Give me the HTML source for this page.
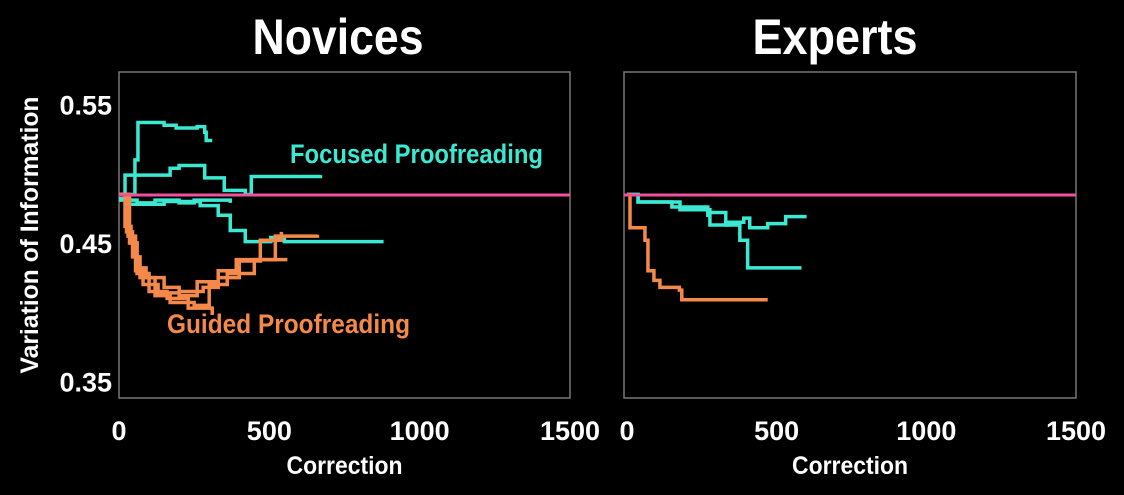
<!DOCTYPE html>
<html><head><meta charset="utf-8">
<style>
html,body{margin:0;padding:0;background:#000;}
svg{display:block;}
text{font-family:"Liberation Sans Narrow","Liberation Sans",sans-serif;font-weight:bold;fill:#fff;}
</style></head>
<body>
<svg id="chart" width="1124" height="495" viewBox="0 0 1124 495"></svg>
<script>
const xTicks=[0,500,1000,1500];
const xTickLabels=["0","500","1000","1500"];
const yTicks=[0.55,0.45,0.35];
const yTickLabels=["0.55","0.45","0.35"];
const baseline=0.4847;
// Novices focused (cyan)
const nf1x=[0,50,53,63,150,190,260,285,290,310];
const nf1y=[0.485,0.485,0.51,0.537,0.535,0.533,0.534,0.530,0.524,0.524];
const nf2x=[0,20,170,200,285,350,420,440,670];
const nf2y=[0.485,0.499,0.504,0.506,0.497,0.488,0.485,0.498,0.499];
const nf3x=[0,30,150,270,330,370,420,505,550,880];
const nf3y=[0.482,0.478,0.480,0.477,0.470,0.459,0.451,0.454,0.451,0.451];
const nf4x=[0,60,120,200,250,370];
const nf4y=[0.481,0.479,0.481,0.479,0.481,0.479];
// Novices guided (orange)
const ng1x=[0,20,40,60,90,150,200,280,330,400,470,540];
const ng1y=[0.485,0.462,0.450,0.432,0.425,0.418,0.415,0.418,0.425,0.437,0.452,0.458];
const ng2x=[0,25,45,70,120,170,250,300,360,450,520,660];
const ng2y=[0.485,0.458,0.440,0.425,0.412,0.407,0.405,0.420,0.428,0.438,0.455,0.456];
const ng3x=[0,30,55,80,130,200,260,330,390,560];
const ng3y=[0.485,0.455,0.430,0.420,0.414,0.412,0.422,0.430,0.438,0.438];
const ng4x=[0,35,60,100,160,230,290,310];
const ng4y=[0.485,0.450,0.428,0.415,0.410,0.403,0.403,0.398];
// Experts
const ef1x=[0,37,150,270,277,340,390,410,470,530,600];
const ef1y=[0.485,0.4796,0.476,0.470,0.463,0.465,0.468,0.461,0.464,0.469,0.469];
const ef2x=[0,37,177,277,330,377,403,583];
const ef2y=[0.485,0.4796,0.474,0.472,0.463,0.452,0.432,0.432];
const egx=[0,10,60,70,90,110,175,183,470];
const egy=[0.485,0.461,0.452,0.430,0.423,0.418,0.416,0.409,0.409];

const svg=document.getElementById('chart');
const NS='http://www.w3.org/2000/svg';
function mk(tag,attrs,parent){const e=document.createElementNS(NS,tag);for(const k in attrs)e.setAttribute(k,attrs[k]);(parent||svg).appendChild(e);return e;}
const panels=[
 {name:'novices',title:'Novices',tl:171,left:119,right:570,x0:119,x1:570,top:72,bottom:398,tx:338,
  series:[[nf1x,nf1y,'#3be8d2'],[nf2x,nf2y,'#3be8d2'],[nf3x,nf3y,'#3be8d2'],[nf4x,nf4y,'#3be8d2'],[ng1x,ng1y,'#f4894a'],[ng2x,ng2y,'#f4894a'],[ng3x,ng3y,'#f4894a'],[ng4x,ng4y,'#f4894a']]},
 {name:'experts',title:'Experts',tl:165,left:624,right:1076,x0:627,x1:1076,top:72,bottom:398,tx:835,
  series:[[ef1x,ef1y,'#3be8d2'],[ef2x,ef2y,'#3be8d2'],[egx,egy,'#f4894a']]}
];
function yS(v){return 243-(v-0.45)*1385;}
panels.forEach(p=>{
 const xS=v=>p.x0+(v/1500)*(p.x1-p.x0);
 const g=mk('g',{});
 
 
 const t=mk('text',{x:p.tx,y:54,'text-anchor':'middle','font-size':50,textLength:p.tl,lengthAdjust:'spacingAndGlyphs'},g);t.textContent=p.title;
 
 
 const fr=mk('rect',{x:p.left,y:p.top,width:p.right-p.left,height:p.bottom-p.top,fill:'none',stroke:'#777','stroke-width':1.5},g);
 
 
 xTicks.forEach((v,i)=>{
  const tl=mk('text',{x:xS(v),y:440,'text-anchor':'middle','font-size':27},g);tl.textContent=xTickLabels[i];
  
  
 });
 const xl=mk('text',{x:(p.left+p.right)/2,y:474,'text-anchor':'middle','font-size':25,textLength:116,lengthAdjust:'spacingAndGlyphs'},g);xl.textContent='Correction';
 
 
 p.series.forEach((s,si)=>{
  let d='';
  s[0].forEach((xv,i)=>{
   const X=xS(xv),Y=yS(s[1][i]);
   if(i===0)d+='M'+X+' '+Y;
   else d+=' H'+X+' V'+Y;
  });
  const path=mk('path',{d:d,fill:'none',stroke:s[2],'stroke-width':3.5},g);
  
  
 });
 const bl=mk('line',{x1:p.left,x2:p.right,y1:yS(baseline),y2:yS(baseline),stroke:'#f0509c','stroke-width':3},g);
 
 
});
yTicks.forEach((v,i)=>{
 const t=mk('text',{x:112,y:yS(v)+10,'text-anchor':'end','font-size':27});t.textContent=yTickLabels[i];
 
 
});
const yt=mk('text',{x:38,y:235,'text-anchor':'middle','font-size':25,transform:'rotate(-90 38 235)',textLength:277,lengthAdjust:'spacingAndGlyphs'});yt.textContent='Variation of Information';


const l1=mk('text',{x:290,y:163,'font-size':27,textLength:253,lengthAdjust:'spacingAndGlyphs',style:'fill:#3be8d2'});l1.textContent='Focused Proofreading';


const l2=mk('text',{x:167,y:333,'font-size':27,textLength:243,lengthAdjust:'spacingAndGlyphs',style:'fill:#f4894a'});l2.textContent='Guided Proofreading';


</script>
</body></html>
